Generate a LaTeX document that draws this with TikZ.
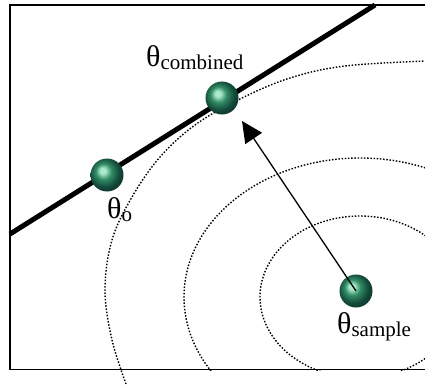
\documentclass[tikz,border=0pt]{standalone}
\usepackage{fontspec}
\setmainfont{Liberation Serif}
\usetikzlibrary{arrows.meta}
\definecolor{ballhl}{RGB}{170,235,205}
\definecolor{ballmid}{RGB}{50,140,100}
\definecolor{balldk}{RGB}{20,75,60}
\definecolor{balledge}{RGB}{10,45,40}
\pgfdeclareradialshading{gball}{\pgfpoint{-7bp}{7bp}}{color(0bp)=(ballhl); color(4bp)=(ballhl); color(12bp)=(ballmid); color(22bp)=(balldk); color(32bp)=(balledge); color(50bp)=(balledge)}
\tikzset{
  gballnode/.style={circle, minimum size=33pt, inner sep=0pt, shading=gball},
  contour/.style={line width=1.4pt, dash pattern=on 1.5pt off 1.7pt},
  lbl/.style={anchor=base west, inner sep=0pt},
}
\newcommand{\thsub}[1]{{\fontsize{30}{32}\selectfont θ}{\fontsize{21}{24}\selectfont\raisebox{-3pt}{#1}}}
\begin{document}
\begin{tikzpicture}[x=1pt,y=-1pt]
\useasboundingbox (0,0) rectangle (425,385);
\begin{scope}
\clip (0,0) rectangle (425,385);
% frame
\draw[line width=1.3pt] (430,5) -- (10,5) -- (10,369.5) -- (430,369.5);
% contours
\begin{scope}
\clip (0,0) rectangle (425,370);
\draw[contour] (360,297) ellipse [x radius=100, y radius=81];
\draw[contour] (360,297) ellipse [x radius=176, y radius=139];
\end{scope}
\draw[contour] plot[smooth, tension=0.6] coordinates {(126,384) (112,340) (105,290) (112,240) (132,197) (160,157) (195,125) (240,99) (290,78) (345,66) (426,61)};
% constraint line
\coordinate (l1) at (10,234);
\coordinate (l2) at (375,5);
\draw[line width=5pt] (l1) -- (l2);
\end{scope}
% balls
\node[gballnode] (o) at (107,175) {};
\node[gballnode] (c) at (222,98) {};
\node[gballnode] (s) at (356,291) {};
% arrow
\coordinate (tip) at (242,121);
\draw[line width=1.3pt, -{Triangle[length=21pt,width=20pt]}] (s.center) -- (tip);
% labels
\node[lbl] (lc) at (146,67) {\thsub{combined}};
\node[lbl] (lo) at (107,218) {\thsub{o}};
\node[lbl] (ls) at (337,333) {\thsub{sample}};
\end{tikzpicture}
\end{document}
